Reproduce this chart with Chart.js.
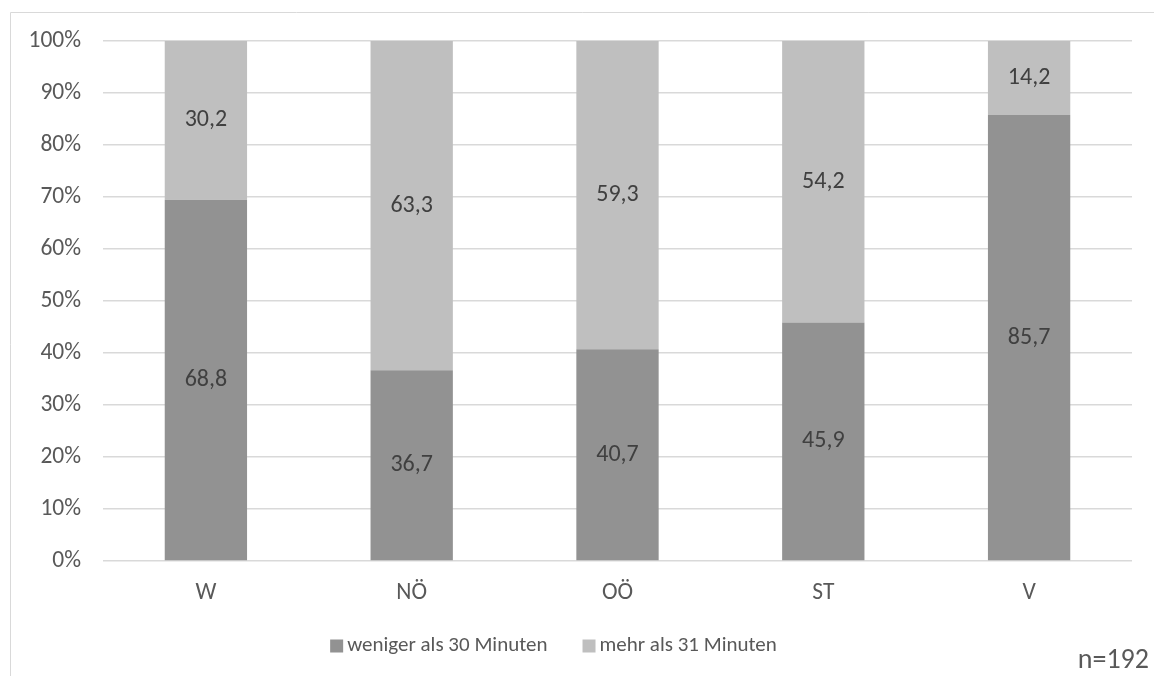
<!DOCTYPE html>
<html>
<head>
<meta charset="utf-8">
<title>Wegzeit nach Bundesland</title>
<script src="https://cdn.jsdelivr.net/npm/chart.js@4/dist/chart.umd.min.js"></script>
<style>
  html, body { margin: 0; padding: 0; background: #ffffff; }
  #wrap { position: relative; width: 1154px; height: 676px; }
  canvas { display: block; }
</style>
</head>
<body>
<div id="wrap"><canvas id="chart" width="1154" height="676"></canvas></div>
<script>
// Bundesländer
const categories = ['W', 'NÖ', 'OÖ', 'ST', 'V'];
// Anteile in Prozent
const wenigerAls30 = [68.8, 36.7, 40.7, 45.9, 85.7];
const mehrAls31 = [30.2, 63.3, 59.3, 54.2, 14.2];
const seriesNames = ['weniger als 30 Minuten', 'mehr als 31 Minuten'];
const yTickLabels = ['0%', '10%', '20%', '30%', '40%', '50%', '60%', '70%', '80%', '90%', '100%'];
const sampleNote = 'n=192';

const FONT = 'Carlito, Calibri, Lato, sans-serif';
const TEXT = '#595959';
const LABEL = '#404040';

// 100%-Stapel: each column is scaled to its own total
const rawSeries = [wenigerAls30, mehrAls31];
const totals = categories.map((_, i) => rawSeries.reduce((s, arr) => s + arr[i], 0));
const normalized = rawSeries.map(arr => arr.map((v, i) => v / totals[i] * 100));

const colors = ['#929292', '#bfbfbf'];

const frame = {
  id: 'frame',
  beforeDraw(chart) {
    const ctx = chart.ctx;
    ctx.save();
    ctx.strokeStyle = '#d9d9d9';
    ctx.lineWidth = 1;
    ctx.beginPath();
    ctx.moveTo(10.5, chart.height);
    ctx.lineTo(10.5, 12.5);
    ctx.lineTo(chart.width, 12.5);
    ctx.stroke();
    ctx.restore();
  }
};

const valueLabels = {
  id: 'valueLabels',
  afterDatasetsDraw(chart) {
    const ctx = chart.ctx;
    ctx.save();
    ctx.font = '24px ' + FONT;
    ctx.fillStyle = LABEL;
    ctx.textAlign = 'center';
    ctx.textBaseline = 'middle';
    chart.data.datasets.forEach((ds, di) => {
      const meta = chart.getDatasetMeta(di);
      meta.data.forEach((bar, i) => {
        const v = ds.raw[i];
        const yMid = (bar.y + bar.base) / 2;
        ctx.fillText(v.toFixed(1).replace('.', ','), bar.x, yMid);
      });
    });
    ctx.restore();
  }
};

const bottomLegend = {
  id: 'bottomLegend',
  afterDraw(chart) {
    const ctx = chart.ctx;
    ctx.save();
    ctx.font = '21px ' + FONT;
    ctx.textBaseline = 'middle';
    const box = 13, gap = 4, spacing = 35;
    const items = chart.data.datasets.map(ds => ({
      text: ds.label, color: ds.backgroundColor, w: ctx.measureText(ds.label).width
    }));
    const total = items.reduce((s, it) => s + box + gap + it.w, 0) + spacing * (items.length - 1);
    let x = 553.5 - total / 2;
    const y = 646;
    items.forEach(it => {
      ctx.fillStyle = it.color;
      ctx.fillRect(x, y - box / 2, box, box);
      ctx.fillStyle = TEXT;
      ctx.textAlign = 'left';
      ctx.fillText(it.text, x + box + gap, y);
      x += box + gap + it.w + spacing;
    });
    // Stichprobengröße
    ctx.font = '28px ' + FONT;
    ctx.textAlign = 'right';
    ctx.fillStyle = TEXT;
    ctx.fillText(sampleNote, 1149, 661);
    ctx.restore();
  }
};

new Chart(document.getElementById('chart'), {
  type: 'bar',
  data: {
    labels: categories,
    datasets: seriesNames.map((name, k) => ({
      label: name,
      data: normalized[k],
      raw: rawSeries[k],
      backgroundColor: colors[k],
      borderWidth: 0,
      barPercentage: 0.4,
      categoryPercentage: 1.0
    }))
  },
  options: {
    responsive: false,
    animation: false,
    layout: { padding: { top: 41, right: 22, bottom: 0, left: 0 } },
    plugins: {
      legend: { display: false },
      tooltip: { enabled: false }
    },
    scales: {
      x: {
        stacked: true,
        grid: { display: false, drawTicks: false },
        border: { display: false },
        ticks: { color: TEXT, font: { family: FONT, size: 23.5 }, padding: 18 },
        afterFit(scale) { scale.height = 115; }
      },
      y: {
        stacked: true,
        min: 0,
        max: 100,
        grid: { color: '#d9d9d9', lineWidth: 1.5, drawTicks: false },
        border: { display: false },
        ticks: {
          stepSize: 10,
          color: TEXT,
          font: { family: FONT, size: 23.5 },
          padding: 22,
          callback: (v) => yTickLabels[Math.round(v / 10)]
        },
        afterFit(scale) { scale.width = 103; }
      }
    }
  },
  plugins: [frame, valueLabels, bottomLegend]
});
</script>
</body>
</html>
